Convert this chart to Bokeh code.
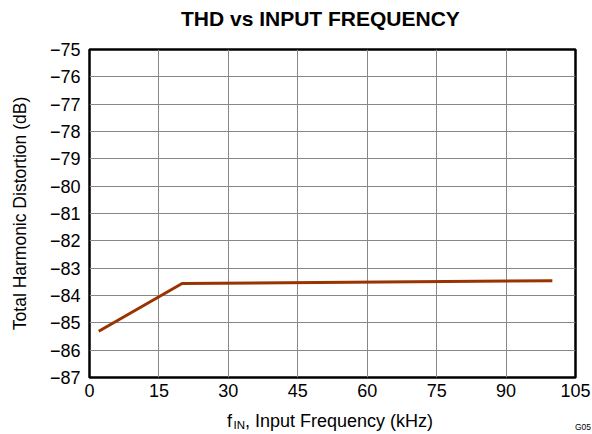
from bokeh.plotting import figure
from bokeh.models import FixedTicker, Range1d, Div
from bokeh.layouts import column
from bokeh.embed import file_html
from bokeh.resources import INLINE

# Data
freq_khz = [2, 20, 100]
thd_db = [-85.31, -83.56, -83.46]

x_ticks = [0, 15, 30, 45, 60, 75, 90, 105]
y_ticks = [-87, -86, -85, -84, -83, -82, -81, -80, -79, -78, -77, -76, -75]
y_tick_labels = ["\u221287", "\u221286", "\u221285", "\u221284", "\u221283", "\u221282",
                 "\u221281", "\u221280", "\u221279", "\u221278", "\u221277", "\u221276", "\u221275"]

title_text = "THD vs INPUT FREQUENCY"
y_label_text = "Total Harmonic Distortion (dB)"
x_label_main = "f"
x_label_sub = "IN"
x_label_rest = ", Input Frequency (kHz)"
figure_id = "G05"

FONT = "Liberation Sans"
CSS_FONT = "font-family:'Liberation Sans',Arial,sans-serif;color:#000;"

# title strip
title_html = (
    '<div style="position:relative;width:592px;height:36px;' + CSS_FONT + '">'
    '<span style="position:absolute;left:181px;top:7.9px;font-size:21px;line-height:21px;'
    'font-weight:bold;white-space:nowrap;">' + title_text + '</span></div>'
)
title_div = Div(text=title_html, width=592, height=36, margin=(0, 0, 0, 0))

p = figure(width=592, height=368, output_backend="svg", toolbar_location=None,
           x_range=Range1d(0, 105), y_range=Range1d(-87, -75),
           min_border_left=89, min_border_right=17, min_border_top=13, min_border_bottom=27)

p.outline_line_color = "black"
p.outline_line_width = 2.5
p.outline_line_alpha = 1.0

p.xaxis.ticker = FixedTicker(ticks=x_ticks)
p.yaxis.ticker = FixedTicker(ticks=y_ticks)
p.yaxis.major_label_overrides = {t: l for t, l in zip(y_ticks, y_tick_labels)}

for ax in (p.xaxis, p.yaxis):
    ax.axis_line_color = None
    ax.major_tick_line_color = None
    ax.minor_tick_line_color = None
    ax.major_tick_out = 0
    ax.major_tick_in = 0
    ax.major_label_text_font = FONT
    ax.major_label_text_font_size = "18px"
    ax.major_label_text_color = "black"

p.xaxis.major_label_standoff = 6
p.yaxis.major_label_standoff = 9

p.yaxis.axis_label = y_label_text
p.yaxis.axis_label_text_font = FONT
p.yaxis.axis_label_text_font_size = "17.5px"
p.yaxis.axis_label_text_font_style = "normal"
p.yaxis.axis_label_text_color = "black"
p.yaxis.axis_label_standoff = 17

p.xgrid.ticker = FixedTicker(ticks=x_ticks)
p.ygrid.ticker = FixedTicker(ticks=y_ticks)
for g in (p.xgrid, p.ygrid):
    g.grid_line_color = "#888888"
    g.grid_line_width = 1
    g.grid_line_alpha = 1.0

p.line(freq_khz, thd_db, line_color="#993300", line_width=3)

# strip below the chart: x-axis title with subscript, and the figure id
caption_html = (
    '<div style="position:relative;width:592px;height:30px;' + CSS_FONT + '">'
    '<span style="position:absolute;left:227px;top:7.8px;font-size:18px;line-height:18px;'
    'white-space:nowrap;">'
    + x_label_main
    + '<span style="position:relative;top:2.5px;margin-left:1.5px;font-size:11.5px;">'
    + x_label_sub + '</span>' + x_label_rest + '</span>'
    '<span style="position:absolute;left:575px;top:18.8px;font-size:8.5px;line-height:8.5px;'
    'white-space:nowrap;">' + figure_id + '</span>'
    '</div>'
)
caption = Div(text=caption_html, width=592, height=30, margin=(0, 0, 0, 0))

layout = column(title_div, p, caption, spacing=0)

open("out.html", "w").write(file_html(layout, INLINE))
